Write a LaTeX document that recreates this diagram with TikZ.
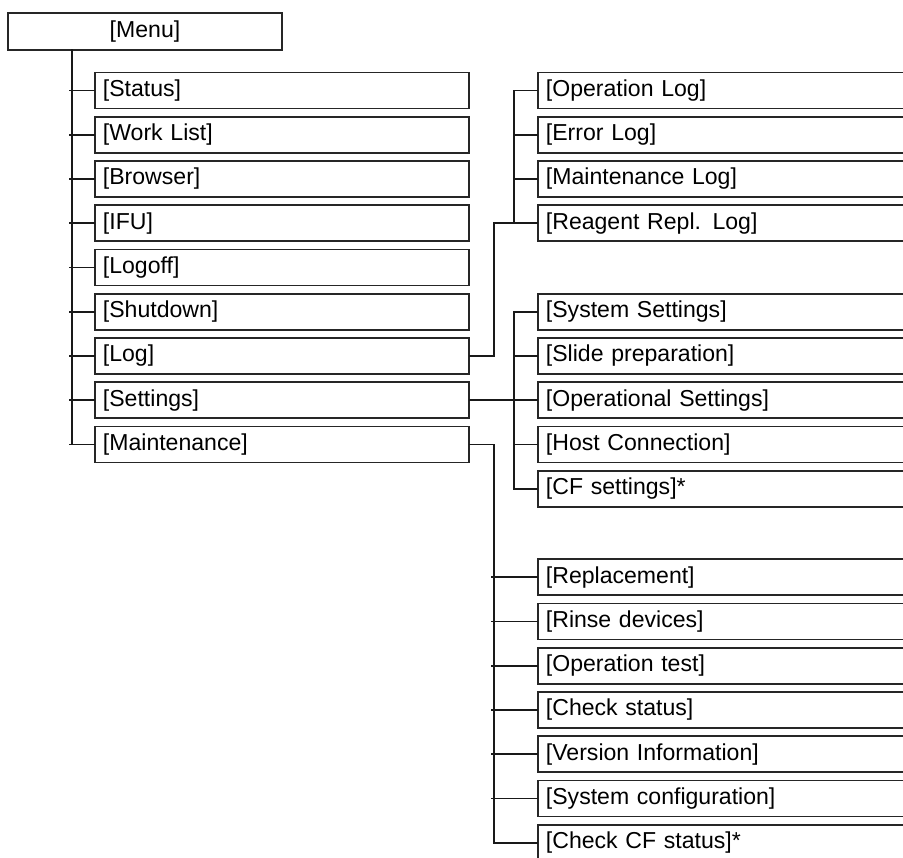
\documentclass[tikz,border=0pt]{standalone}
\usepackage{fontspec}
\setmainfont{Liberation Sans}
\begin{document}
\begin{tikzpicture}[x=0.75pt,y=-0.75pt,
  box/.style={draw=black!85, line width=1.4pt, fill=white, anchor=west,
    minimum height=27pt, text width=268.5pt, inner xsep=6pt, inner ysep=0pt,
    align=left, font=\fontsize{17.3}{20}\selectfont},
  menubox/.style={draw=black!85, line width=1.4pt, fill=white,
    minimum width=205.5pt, minimum height=27.75pt, inner sep=0pt,
    font=\fontsize{17.3}{20}\selectfont},
  conn/.style={draw=black!90, line width=1.2pt, line cap=rect}]
\useasboundingbox (0,0) rectangle (903,857);
\clip (0,0) rectangle (903,857);
\fill[white] (0,0) rectangle (903,857);

% main menu
\node[menubox] (menu) at (145,31.5) {[Menu]};

% first level
\node[box] (status)   at (94,90.5)  {[Status]};
\node[box] (worklist) at (94,134.75) {[Work List]};
\node[box] (browser)  at (94,179)   {[Browser]};
\node[box] (ifu)      at (94,223.25) {[IFU]};
\node[box] (logoff)   at (94,267.5) {[Logoff]};
\node[box] (shutdown) at (94,311.75) {[Shutdown]};
\node[box] (log)      at (94,356)   {[Log]};
\node[box] (settings) at (94,400.25) {[Settings]};
\node[box] (maint)    at (94,444.5) {[Maintenance]};

% log submenu
\node[box] (oplog)  at (537,90.5)  {[Operation Log]};
\node[box] (errlog) at (537,134.75) {[Error Log]};
\node[box] (mlog)   at (537,179)   {[Maintenance Log]};
\node[box] (rrlog)  at (537,223.25) {[Reagent Repl. Log]};

% settings submenu
\node[box] (sysset) at (537,311.75) {[System Settings]};
\node[box] (slide)  at (537,356)   {[Slide preparation]};
\node[box] (opset)  at (537,400.25) {[Operational Settings]};
\node[box] (host)   at (537,444.5) {[Host Connection]};
\node[box] (cfset)  at (537,488.75) {[CF settings]*};

% maintenance submenu
\node[box] (repl)   at (537,577.25) {[Replacement]};
\node[box] (rinse)  at (537,621.5) {[Rinse devices]};
\node[box] (optest) at (537,665.75) {[Operation test]};
\node[box] (chk)    at (537,710)   {[Check status]};
\node[box] (ver)    at (537,754.25) {[Version Information]};
\node[box] (syscfg) at (537,798.5) {[System configuration]};
\node[box] (chkcf)  at (537,842.75) {[Check CF status]*};

% trunk coordinates
\coordinate (ta) at (72,50);
\coordinate (lx) at (514,0);
\coordinate (mx) at (492,0);

% main trunk
\draw[conn] (ta) |- (maint.west);
\foreach \n in {status,worklist,browser,ifu,logoff,shutdown,log,settings,maint}
  \draw[conn] ([xshift=-1.5pt]ta |- \n.west) -- (\n.west);

% log branch
\draw[conn] (log.east) -- ++(18pt,0) |- (rrlog.west);
\draw[conn] (oplog.west) -- (lx |- oplog.west) -- (lx |- rrlog.west);
\foreach \n in {errlog,mlog}
  \draw[conn] (lx |- \n.west) -- (\n.west);

% settings branch
\draw[conn] (settings.east) -- (opset.west);
\draw[conn] (sysset.west) -- (lx |- sysset.west) -- (lx |- cfset.west) -- (cfset.west);
\foreach \n in {slide,host}
  \draw[conn] (lx |- \n.west) -- (\n.west);

% maintenance branch
\draw[conn] (maint.east) -- ++(18pt,0) |- (chkcf.west);
\foreach \n in {repl,rinse,optest,chk,ver,syscfg}
  \draw[conn] (mx |- \n.west) -- (\n.west);
\end{tikzpicture}
\end{document}
